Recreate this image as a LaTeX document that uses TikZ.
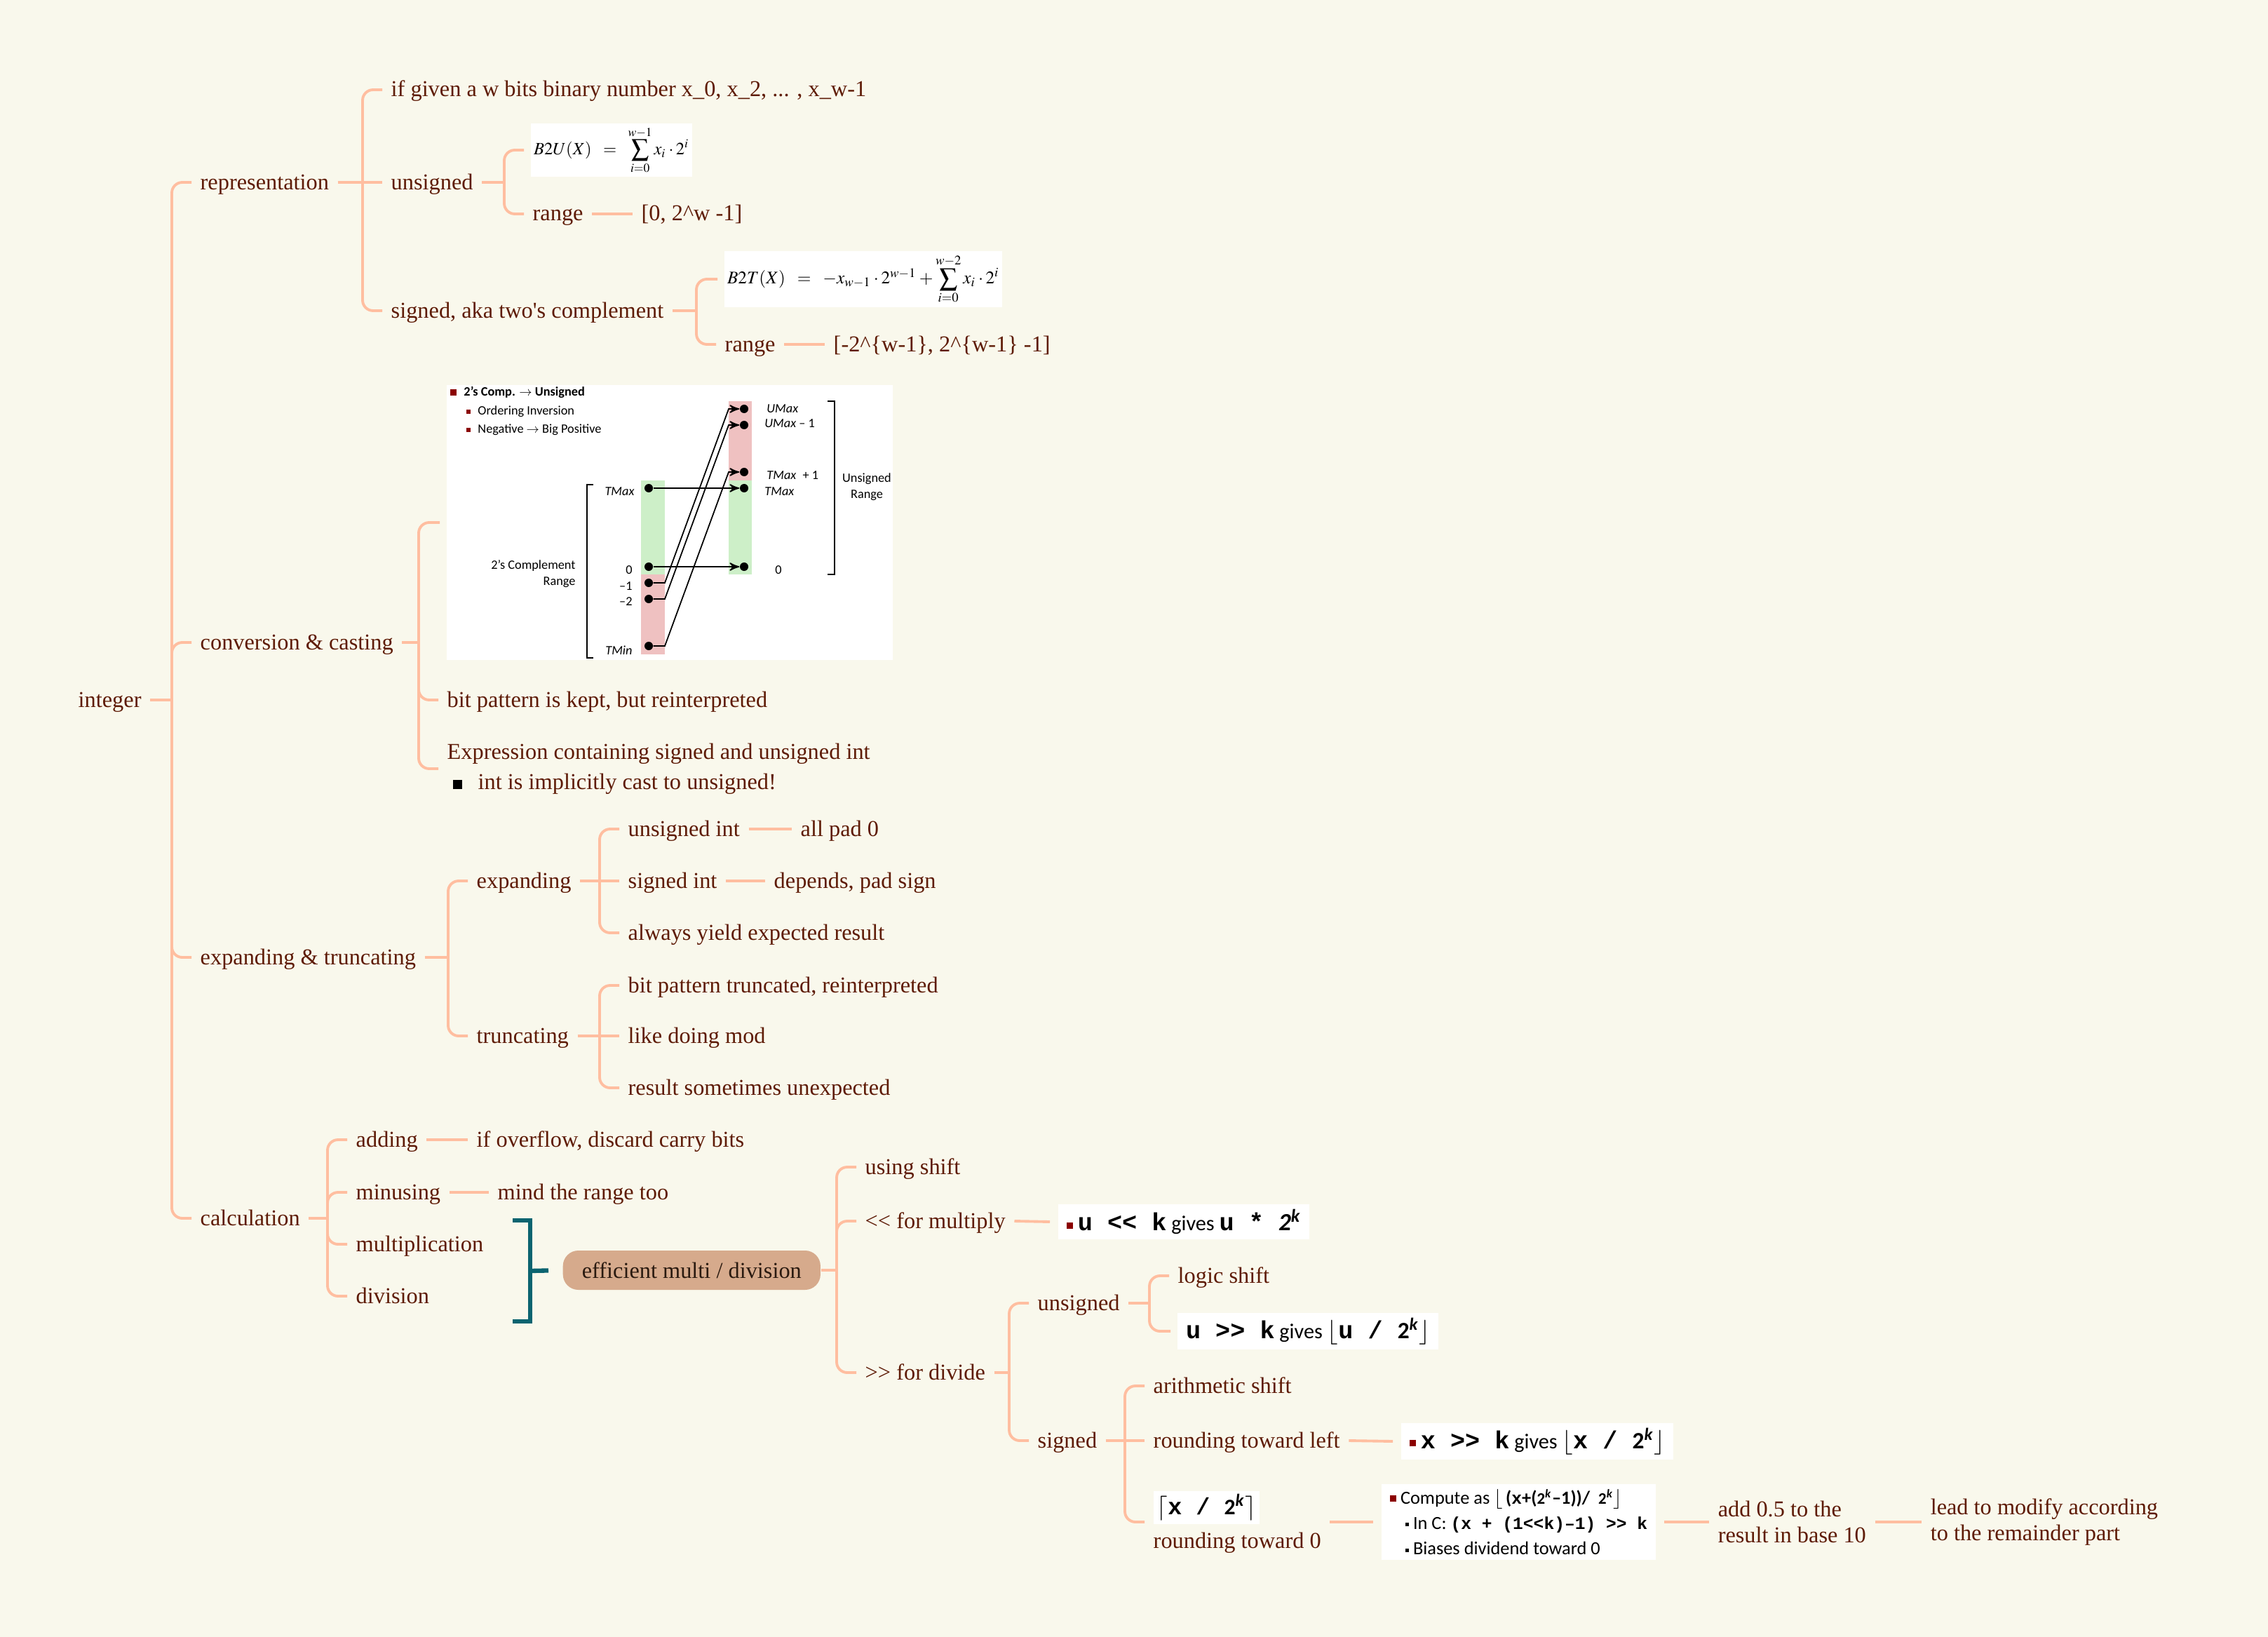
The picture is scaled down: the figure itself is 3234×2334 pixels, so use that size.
\documentclass[tikz,border=0pt]{standalone}
\usepackage{mathptmx}
\usepackage{fontspec}
\setmainfont{Liberation Serif}
\newfontfamily\cfont{Carlito}
\newfontfamily\mfont{Liberation Mono}
\usetikzlibrary{calc,arrows}

\definecolor{paper}{HTML}{F9F8EC}
\definecolor{ink}{HTML}{5E1B06}
\definecolor{peach}{HTML}{FFBEA0}
\definecolor{sumteal}{HTML}{0B6470}
\definecolor{tanfill}{HTML}{D6AA8C}
\definecolor{effink}{HTML}{2A1A10}
\definecolor{bulred}{HTML}{8B0000}
\definecolor{greenbar}{HTML}{CDEFC8}
\definecolor{redbar}{HTML}{EFC1C1}

% bullets and code pieces
\newcommand{\rsq}{\textcolor{bulred}{\rule[0.03cm]{0.09cm}{0.09cm}}}
\newcommand{\bsq}{\rule[0.04cm]{0.05cm}{0.05cm}}
\newcommand{\cb}[2][7]{{\mfont\bfseries\fontsize{#1pt}{#1pt}\selectfont #2}}
\newcommand{\twok}[1]{{\cfont\fontsize{#1pt}{#1pt}\selectfont\bfseries 2\textsuperscript{\itshape k}}}
\newcommand{\fl}[2][10]{{\fontsize{#1pt}{#1pt}\selectfont$#2$}}

% spine from parent to its children
\newcommand{\kids}[3]{%
  \coordinate (#1-j) at ($(#1.east -| #2.west)+(-28,0)$);
  \draw[branch] (#1.east) -- (#1-j);
  \foreach \kid in {#3} {\draw[branch] (#1-j) |- (\kid.west);}}

\tikzset{
  topic/.style={anchor=west, inner xsep=0.12cm, inner ysep=0.05cm, text=ink,
                text height=0.28cm, text depth=0.08cm},
  multi/.style={anchor=west, inner xsep=0.12cm, inner ysep=0.02cm, text=ink, align=left},
  branch/.style={draw=peach, line width=1.1pt, rounded corners=0.15cm},
  pic/.style={anchor=west, fill=white, inner sep=0.04cm, outer sep=0.1cm, text=black},
  codebox/.style={anchor=west, fill=white, inner xsep=0.12cm, inner ysep=0.07cm,
                  outer sep=0.12cm, text=black, font=\cfont\fontsize{8.6pt}{9pt}\selectfont},
  effbox/.style={anchor=west, fill=tanfill, rounded corners=0.22cm, minimum width=3.67cm,
                 minimum height=0.56cm, text=effink},
  summary/.style={draw=sumteal, line width=1.8pt},
  imgtxt/.style={font=\cfont\fontsize{5.2pt}{6.4pt}\selectfont, inner sep=0.5pt, text=black},
  dot/.style={circle, fill=black, inner sep=0pt, minimum size=0.12cm},
  conn/.style={->, line width=0.5pt}
}

\begin{document}
\begin{tikzpicture}[x=0.01cm, y=-0.01cm,
                    >=stealth',
                    font=\fontsize{9.2pt}{12pt}\selectfont
                    ]

\fill[paper] (0,0) rectangle (3234,2334);
\useasboundingbox (0,0) rectangle (3234,2334);

% root and main topics
\node[topic] (root) at (99,998) {integer};
\node[topic] (rep) at (273,260) {representation};
\node[topic] (conv) at (273,916) {conversion \& casting};
\node[topic] (exptr) at (273,1365) {expanding \& truncating};
\node[topic] (calcu) at (273,1737) {calculation};
\kids{root}{rep}{rep,conv,exptr,calcu}

% representation
\node[topic] (ifgiven) at (545,128) {if given a w bits binary number x\_0, x\_2, ... , x\_w-1};
\node[topic] (uns) at (545,260) {unsigned};
\node[topic] (sig) at (545,443) {signed, aka two\textquotesingle s complement};
\kids{rep}{ifgiven}{ifgiven,sig}
\draw[branch] (rep-j) -- (uns.west);

\node[pic, font=\fontsize{7pt}{8pt}\selectfont] (b2u) at (747,214)
  {$B2U(X) \;\;=\;\; \displaystyle\sum_{i=0}^{w-1} x_i \cdot 2^{i}$};
\node[topic] (urange) at (747,305) {range};
\node[topic] (urangev) at (902,305) {[0, 2\textasciicircum w -1]};
\kids{uns}{urange}{b2u,urange}
\draw[branch] (urange.east) -- (urangev.west);

\node[pic, font=\fontsize{7.2pt}{8pt}\selectfont] (b2t) at (1023,398)
  {$B2T(X) \;\;=\;\; -x_{w-1}\cdot 2^{w-1} + \displaystyle\sum_{i=0}^{w-2} x_i \cdot 2^{i}$};
\node[topic] (srange) at (1021,491) {range};
\node[topic] (srangev) at (1176,491) {[-2\textasciicircum\{w-1\}, 2\textasciicircum\{w-1\} -1]};
\kids{sig}{srange}{b2t,srange}
\draw[branch] (srange.east) -- (srangev.west);

% conversion & casting
\node[pic, minimum width=6.36cm, minimum height=3.92cm, inner sep=0pt] (convimg) at (627,745) {};
\node[topic] (bitkept) at (625,998) {bit pattern is kept, but reinterpreted};
\node[multi, font=\fontsize{9.2pt}{12.2pt}\selectfont] (expr) at (625,1096)
  {Expression containing signed and unsigned int\\\hspace*{0.08cm}\textcolor{black}{\rule{0.13cm}{0.13cm}}\hspace{0.23cm}int is implicitly cast to unsigned!};
\kids{conv}{bitkept}{convimg,bitkept,expr}

% the mapping picture
\node[imgtxt, anchor=west] (ttl) at (640,559)
  {\textcolor{bulred}{\rule{0.09cm}{0.09cm}}\hspace{0.1cm}\textbf{2’s Comp. $\rightarrow$ Unsigned}};
\node[imgtxt, anchor=west] (ord) at (663,587) {\textcolor{bulred}{\rule[0.02cm]{0.06cm}{0.06cm}}\hspace{0.1cm}Ordering Inversion};
\node[imgtxt, anchor=west] (neg) at (663,613) {\textcolor{bulred}{\rule[0.02cm]{0.06cm}{0.06cm}}\hspace{0.1cm}Negative $\rightarrow$ Big Positive};

\fill[greenbar] (914,685) rectangle (948,819);
\fill[redbar] (914,819) rectangle (948,933);
\fill[redbar] (1039,572) rectangle (1072,685);
\fill[greenbar] (1039,685) rectangle (1072,819);
\coordinate (lbar) at (948,0);
\coordinate (rbar) at (1039,0);

\foreach \n/\y in {ltmax/696, szero/808, lm1/831, lm2/854, ltmin/921}
  \node[dot] (\n) at (925,\y) {};
\foreach \n/\y in {umax/583, umaxm/606, tmaxp/673, rtmax/696, uzero/808}
  \node[dot] (\n) at (1061,\y) {};

\draw[conn] (ltmax) -- (rtmax);
\draw[conn] (szero) -- (uzero);
\foreach \a/\b in {lm1/umax, lm2/umaxm, ltmin/tmaxp}
  \draw[conn] (\a) -- (\a -| lbar) -- (\b -| rbar) -- (\b);

\node[imgtxt, anchor=east] (ltmaxl) at (907,701) {\textit{TMax}};
\node[imgtxt, anchor=east] (szerol) at (904,813) {0};
\node[imgtxt, anchor=east] (lm1l) at (904,836) {–1};
\node[imgtxt, anchor=east] (lm2l) at (904,858) {–2};
\node[imgtxt, anchor=east] (ltminl) at (904,927) {\textit{TMin}};
\node[imgtxt, anchor=west] (umaxl) at (1091,583) {\textit{UMax}};
\node[imgtxt, anchor=west] (umaxml) at (1088,604) {\textit{UMax} – 1};
\node[imgtxt, anchor=west] (tmaxpl) at (1091,678) {\textit{TMax}\enspace+ 1};
\node[imgtxt, anchor=west] (rtmaxl) at (1088,701) {\textit{TMax}};
\node[imgtxt, anchor=west] (uzerol) at (1103,813) {0};

\draw[line width=0.7pt] (846,691) -- (837,691) -- (837,938) -- (846,938);
\draw[line width=0.7pt] (1180,572) -- (1190,572) -- (1190,819) -- (1180,819);
\node[imgtxt, align=right, anchor=east] (crange) at (823,818) {2’s Complement\\Range};
\node[imgtxt, align=center] (urng) at (1236,694) {Unsigned\\Range};

% expanding & truncating
\node[topic] (expd) at (667,1256) {expanding};
\node[topic] (trunc) at (667,1477) {truncating};
\kids{exptr}{expd}{expd,trunc}

\node[topic] (uint) at (883,1182) {unsigned int};
\node[topic] (padz) at (1129,1182) {all pad 0};
\node[topic] (sint) at (883,1256) {signed int};
\node[topic] (pads) at (1091,1256) {depends, pad sign};
\node[topic] (always) at (883,1330) {always yield expected result};
\kids{expd}{uint}{uint,always}
\draw[branch] (expd-j) -- (sint.west);
\draw[branch] (uint.east) -- (padz.west);
\draw[branch] (sint.east) -- (pads.west);

\node[topic] (bptr) at (883,1405) {bit pattern truncated, reinterpreted};
\node[topic] (mod) at (883,1477) {like doing mod};
\node[topic] (unexp) at (883,1551) {result sometimes unexpected};
\kids{trunc}{bptr}{bptr,unexp}
\draw[branch] (trunc-j) -- (mod.west);

% calculation
\node[topic] (add) at (495,1625) {adding};
\node[topic] (ovf) at (667,1625) {if overflow, discard carry bits};
\node[topic] (minus) at (495,1700) {minusing};
\node[topic] (mind) at (697,1700) {mind the range too};
\node[topic] (mul) at (495,1774) {multiplication};
\node[topic] (div) at (495,1848) {division};
\kids{calcu}{add}{add,minus,mul,div}
\draw[branch] (add.east) -- (ovf.west);
\draw[branch] (minus.east) -- (mind.west);

% summary of multiplication and division
\node[effbox] (eff) at (802,1811) {efficient multi / division};
\coordinate (brk) at (756,1812);
\draw[summary] (731,1740) -- (756,1740) -- (756,1884) -- (731,1884);
\draw[summary, shorten >=0.2cm] (brk) -- (eff.west);

\node[topic] (ushift) at (1221,1664) {using shift};
\node[topic] (lsh) at (1221,1741) {\textless\kern0pt\textless{} for multiply};
\node[topic] (rsh) at (1221,1957) {\textgreater\kern0pt\textgreater{} for divide};
\kids{eff}{ushift}{ushift,lsh,rsh}

\node[codebox] (mulbox) at (1497,1742)
  {\rsq\ \cb[10]{u \textless\textless\ k} gives \cb[10]{u * }{\fontsize{10pt}{10pt}\selectfont\bfseries\itshape 2\textsuperscript{k}}};
\draw[branch] (lsh.east) -- (mulbox.west);

\node[topic] (dun) at (1467,1858) {unsigned};
\node[topic] (dsg) at (1467,2054) {signed};
\kids{rsh}{dun}{dun,dsg}

\node[topic] (logic) at (1667,1819) {logic shift};
\node[codebox, outer sep=0.1cm] (ubox) at (1669,1898)
  {\cb[10]{u \textgreater\textgreater\ k} gives \fl{\lfloor}\cb[10]{u / }\twok{9.5}\fl{\rfloor}};
\kids{dun}{logic}{logic,ubox}

\node[topic] (arith) at (1632,1976) {arithmetic shift};
\node[topic] (rleft) at (1632,2054) {rounding toward left};
\node[multi, font=\fontsize{9.2pt}{12pt}\selectfont] (rzero) at (1632,2170)
  {\setlength{\fboxsep}{0.05cm}\colorbox{white}{\color{black}\fl{\lceil}\cb[9.5]{x / }\twok{9}\fl{\rceil}}\\[0.06cm]rounding toward 0};
\kids{dsg}{arith}{arith,rzero}
\draw[branch] (dsg-j) -- (rleft.west);

\node[codebox] (xbox) at (1986,2055)
  {\rsq\ \cb[10]{x \textgreater\textgreater\ k} gives \fl{\lfloor}\cb[10]{x / }\twok{9.5}\fl{\rfloor}};
\draw[branch] (rleft.east) -- (xbox.west);

\node[codebox, align=left, font=\cfont\fontsize{7.5pt}{10.3pt}\selectfont] (comp) at (1958,2170)
  {\rsq\ Compute as \fl[8]{\lfloor}\,{\bfseries (}\cb{x}{\bfseries +(}\twok{6.5}{\bfseries –1))/~~}\twok{6.5}\fl[8]{\rfloor}\\
   \hspace*{0.22cm}\bsq\ In C: \cb{(x + (1\textless\textless k)–1) \textgreater\textgreater\ k}\\
   \hspace*{0.22cm}\bsq\ Biases dividend toward 0};
\draw[branch] (rzero.east) -- (comp.west);

\node[multi, font=\fontsize{9.2pt}{10.4pt}\selectfont] (add05) at (2437,2170) {add 0.5 to the\\result in base 10};
\draw[branch] (comp.east) -- (add05.west);
\node[multi, font=\fontsize{9.2pt}{10.4pt}\selectfont] (lead) at (2740,2170) {lead to modify according\\to the remainder part};
\draw[branch] (add05.east) -- (lead.west);

\end{tikzpicture}
\end{document}
